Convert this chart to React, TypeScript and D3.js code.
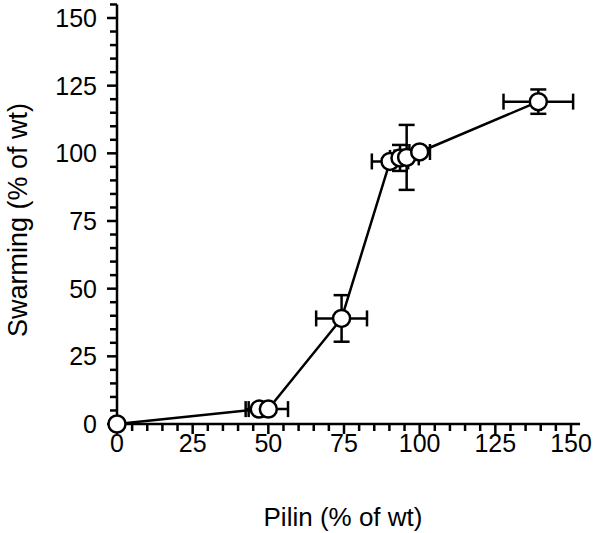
import React from "react";
import * as d3 from "d3";

// values
const pilin = [0, 47, 50, 74.2, 90.2, 93.5, 95.7, 100, 139.2];
const swarming = [0, 5.5, 5.5, 39, 97, 98.3, 98.5, 100.5, 119.1];
const pilinErr = [0, 4.5, 6.5, 8.4, 6, 3.3, 4, 3.4, 11.5];
const swarmingErr = [0, 0, 0, 8.6, 1.5, 4.8, 12, 1.5, 4.5];
const tickLabels = [0, 25, 50, 75, 100, 125, 150];

const W = 600;
const H = 533;

const App = () => {
  const x = d3.scaleLinear().domain([0, 150]).range([117, 571]);
  const y = d3.scaleLinear().domain([0, 150]).range([424, 18]);

  const pts = pilin.map((p, i) => ({
    px: p,
    py: swarming[i],
    ex: pilinErr[i],
    ey: swarmingErr[i],
  }));

  const line = d3
    .line<{ px: number; py: number }>()
    .x((d) => x(d.px))
    .y((d) => y(d.py));

  const minorX = d3.range(0, 151, 5);
  const minorY = d3.range(0, 156, 5);
  const cap = 8;
  const font = "Arial, 'Liberation Sans', sans-serif";

  return (
    <div style={{ position: "absolute", left: 0, top: 0 }}>
      <svg width={W} height={H} style={{ display: "block", background: "#fff" }}>
        {/* axes */}
        <line x1={x(0)} x2={x(0)} y1={y(0) + 1} y2={y(155)} stroke="#000" strokeWidth={2.5} />
        <line x1={x(0) - 1} x2={x(153)} y1={y(0)} y2={y(0)} stroke="#000" strokeWidth={2.5} />
        {minorY.map((v) => (
          <line
            key={"ty" + v}
            x1={x(0)}
            x2={x(0) - (v % 25 === 0 ? 10 : 7)}
            y1={y(v)}
            y2={y(v)}
            stroke="#000"
            strokeWidth={2.5}
          />
        ))}
        {minorX.map((v) => (
          <line
            key={"tx" + v}
            x1={x(v)}
            x2={x(v)}
            y1={y(0)}
            y2={y(0) + (v % 25 === 0 ? 10 : 7)}
            stroke="#000"
            strokeWidth={2.5}
          />
        ))}
        {tickLabels.map((v) => (
          <text
            key={"ly" + v}
            x={97}
            y={y(v)}
            dy="0.36em"
            textAnchor="end"
            fontFamily={font}
            fontSize={25}
          >
            {v}
          </text>
        ))}
        {tickLabels.map((v) => (
          <text
            key={"lx" + v}
            x={x(v)}
            y={452}
            textAnchor="middle"
            fontFamily={font}
            fontSize={25}
          >
            {v}
          </text>
        ))}
        <text
          x={343}
          y={526}
          textAnchor="middle"
          fontFamily={font}
          fontSize={26}
        >
          Pilin (% of wt)
        </text>
        <text
          transform={`translate(27,220) rotate(-90)`}
          textAnchor="middle"
          fontFamily={font}
          fontSize={27}
        >
          Swarming (% of wt)
        </text>

        {/* connecting line */}
        <path d={line(pts) || ""} fill="none" stroke="#000" strokeWidth={2.5} />

        {/* error bars */}
        {pts.map((d, i) => (
          <g key={"e" + i} stroke="#000" strokeWidth={2.5}>
            {d.ex > 0 && (
              <>
                <line x1={x(d.px - d.ex)} x2={x(d.px + d.ex)} y1={y(d.py)} y2={y(d.py)} />
                <line x1={x(d.px - d.ex)} x2={x(d.px - d.ex)} y1={y(d.py) - cap} y2={y(d.py) + cap} />
                <line x1={x(d.px + d.ex)} x2={x(d.px + d.ex)} y1={y(d.py) - cap} y2={y(d.py) + cap} />
              </>
            )}
            {d.ey > 0 && (
              <>
                <line x1={x(d.px)} x2={x(d.px)} y1={y(d.py - d.ey)} y2={y(d.py + d.ey)} />
                <line x1={x(d.px) - cap} x2={x(d.px) + cap} y1={y(d.py - d.ey)} y2={y(d.py - d.ey)} />
                <line x1={x(d.px) - cap} x2={x(d.px) + cap} y1={y(d.py + d.ey)} y2={y(d.py + d.ey)} />
              </>
            )}
          </g>
        ))}

        {/* markers */}
        {pts.map((d, i) => (
          <circle
            key={"c" + i}
            cx={x(d.px)}
            cy={y(d.py)}
            r={8.5}
            fill="#fff"
            stroke="#000"
            strokeWidth={2.5}
          />
        ))}
      </svg>
    </div>
  );
};

export default App;
